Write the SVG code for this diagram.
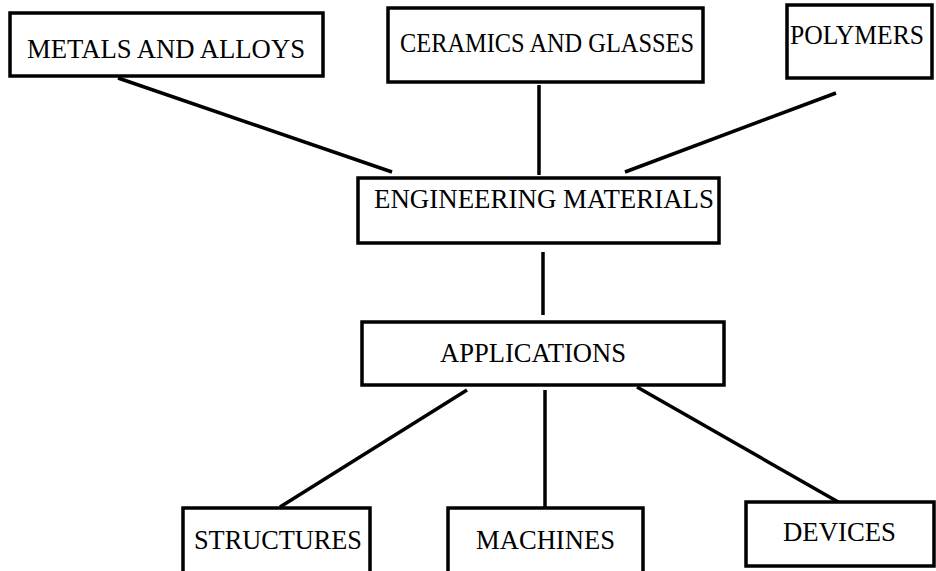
<svg xmlns="http://www.w3.org/2000/svg" width="936" height="571" viewBox="0 0 936 571">
<style>
.box{fill:#fff;stroke:#000;stroke-width:3.5}
.lbl{font-family:"Liberation Serif","Times New Roman",serif;font-size:27px;fill:#000}
.con line{stroke:#000;stroke-width:3.5}
</style>
<rect width="936" height="571" fill="#fff"/>
<g id="connectors" class="con">
<line x1="118" y1="78" x2="392" y2="172"/>
<line x1="539" y1="85" x2="539" y2="175"/>
<line x1="836" y1="93" x2="625" y2="172"/>
<line x1="543" y1="252" x2="543" y2="315"/>
<line x1="467" y1="390" x2="280" y2="507"/>
<line x1="545" y1="390" x2="545" y2="507"/>
<line x1="637" y1="387" x2="840" y2="503"/>
</g>
<g id="metals"><rect class="box" x="10" y="13" width="313" height="63"/><text class="lbl" x="27" y="58" textLength="278" lengthAdjust="spacingAndGlyphs">METALS AND ALLOYS</text></g>
<g id="ceramics"><rect class="box" x="388" y="8" width="315" height="74"/><text class="lbl" x="400" y="52" textLength="294" lengthAdjust="spacingAndGlyphs">CERAMICS AND GLASSES</text></g>
<g id="polymers"><rect class="box" x="787" y="5" width="145" height="73"/><text class="lbl" x="790" y="44" textLength="134" lengthAdjust="spacingAndGlyphs">POLYMERS</text></g>
<g id="engineering"><rect class="box" x="358" y="178" width="361" height="65"/><text class="lbl" x="374" y="208" textLength="340" lengthAdjust="spacingAndGlyphs">ENGINEERING MATERIALS</text></g>
<g id="applications"><rect class="box" x="362" y="322" width="362" height="63"/><text class="lbl" x="440" y="362" textLength="186" lengthAdjust="spacingAndGlyphs">APPLICATIONS</text></g>
<g id="structures"><rect class="box" x="183" y="508" width="187" height="70"/><text class="lbl" x="194" y="549" textLength="168" lengthAdjust="spacingAndGlyphs">STRUCTURES</text></g>
<g id="machines"><rect class="box" x="448" y="508" width="195" height="70"/><text class="lbl" x="476" y="549" textLength="139" lengthAdjust="spacingAndGlyphs">MACHINES</text></g>
<g id="devices"><rect class="box" x="746" y="502" width="188" height="64"/><text class="lbl" x="783" y="541" textLength="113" lengthAdjust="spacingAndGlyphs">DEVICES</text></g>
</svg>
